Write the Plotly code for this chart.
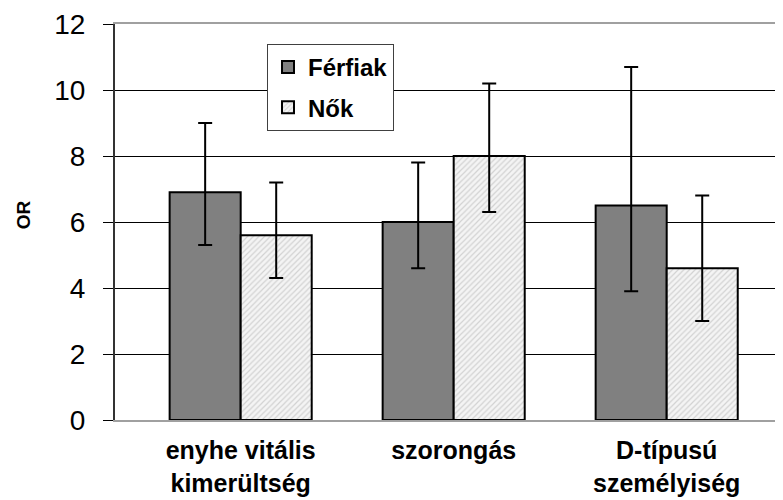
import plotly.graph_objects as go

categories = ["enyhe vitális<br>kimerültség", "szorongás", "D-típusú<br>személyiség"]
ferfiak = [6.9, 6.0, 6.5]
ferfiak_hi = [9.0, 7.8, 10.7]
ferfiak_lo = [5.3, 4.6, 3.9]
nok = [5.6, 8.0, 4.6]
nok_hi = [7.2, 10.2, 6.8]
nok_lo = [4.3, 6.3, 3.0]
y_ticks = [0, 2, 4, 6, 8, 10, 12]

FONT = "Liberation Sans, Arial, sans-serif"

def plus(v, hi):
    return [h - x for x, h in zip(v, hi)]

def minus(v, lo):
    return [x - l for x, l in zip(v, lo)]

fig = go.Figure()
fig.add_trace(go.Bar(
    name="Férfiak", x=list(range(len(categories))), y=ferfiak, legendgroup="f",
    marker=dict(color="#808080", line=dict(color="black", width=2)),
    error_y=dict(type="data", symmetric=False, array=plus(ferfiak, ferfiak_hi),
                 arrayminus=minus(ferfiak, ferfiak_lo), color="black", thickness=2, width=7),
))
fig.add_trace(go.Bar(
    name="Nők", x=list(range(len(categories))), y=nok, legendgroup="n",
    marker=dict(color="#f0f0f0", line=dict(color="black", width=2),
                pattern=dict(shape="/", bgcolor="#f4f4f4", fgcolor="#b0b0b0", size=4, solidity=0.3)),
    error_y=dict(type="data", symmetric=False, array=plus(nok, nok_hi),
                 arrayminus=minus(nok, nok_lo), color="black", thickness=2, width=7),
))

# page body has an 8px margin: compensate so the plot area lands where the reference has it
fig.update_layout(
    width=775, height=492,
    margin=dict(l=107, r=0, t=16, b=80),
    paper_bgcolor="white", plot_bgcolor="white",
    barmode="group", bargap=0.333, bargroupgap=0,
    font=dict(family=FONT, color="black"),
    showlegend=True,
    legend=dict(x=(267 - 115) / 668, y=(420 - 44) / 396, xanchor="left", yanchor="top",
                bgcolor="white", bordercolor="#404040", borderwidth=1,
                font=dict(size=24, family=FONT, color="black", weight="bold"),
                itemwidth=30, tracegroupgap=6),
    xaxis=dict(range=[-0.59, 2.546], tickmode="array",
               tickvals=list(range(len(categories))), ticktext=categories,
               tickfont=dict(size=25, family=FONT, weight="bold"),
               showline=True, linecolor="#a0a0a0", linewidth=2, mirror=True,
               showgrid=False, ticks="", zeroline=False, automargin=False,
               ticklabelstandoff=7),
    yaxis=dict(range=[0, 12], tickvals=y_ticks,
               tickfont=dict(size=28, family=FONT),
               showline=True, linecolor="#333333", linewidth=2,
               ticks="outside", ticklen=10, tickcolor="black", tickwidth=1,
               ticklabelstandoff=12, automargin=False,
               showgrid=True, gridcolor="black", gridwidth=1, zeroline=False),
    annotations=[dict(text="<b>OR</b>", xref="paper", yref="paper", x=-0.1377, y=0.517,
                      xanchor="center", yanchor="middle",
                      textangle=-90, showarrow=False,
                      font=dict(size=19, family=FONT, color="black"))],
)

fig.write_html("out.html")
